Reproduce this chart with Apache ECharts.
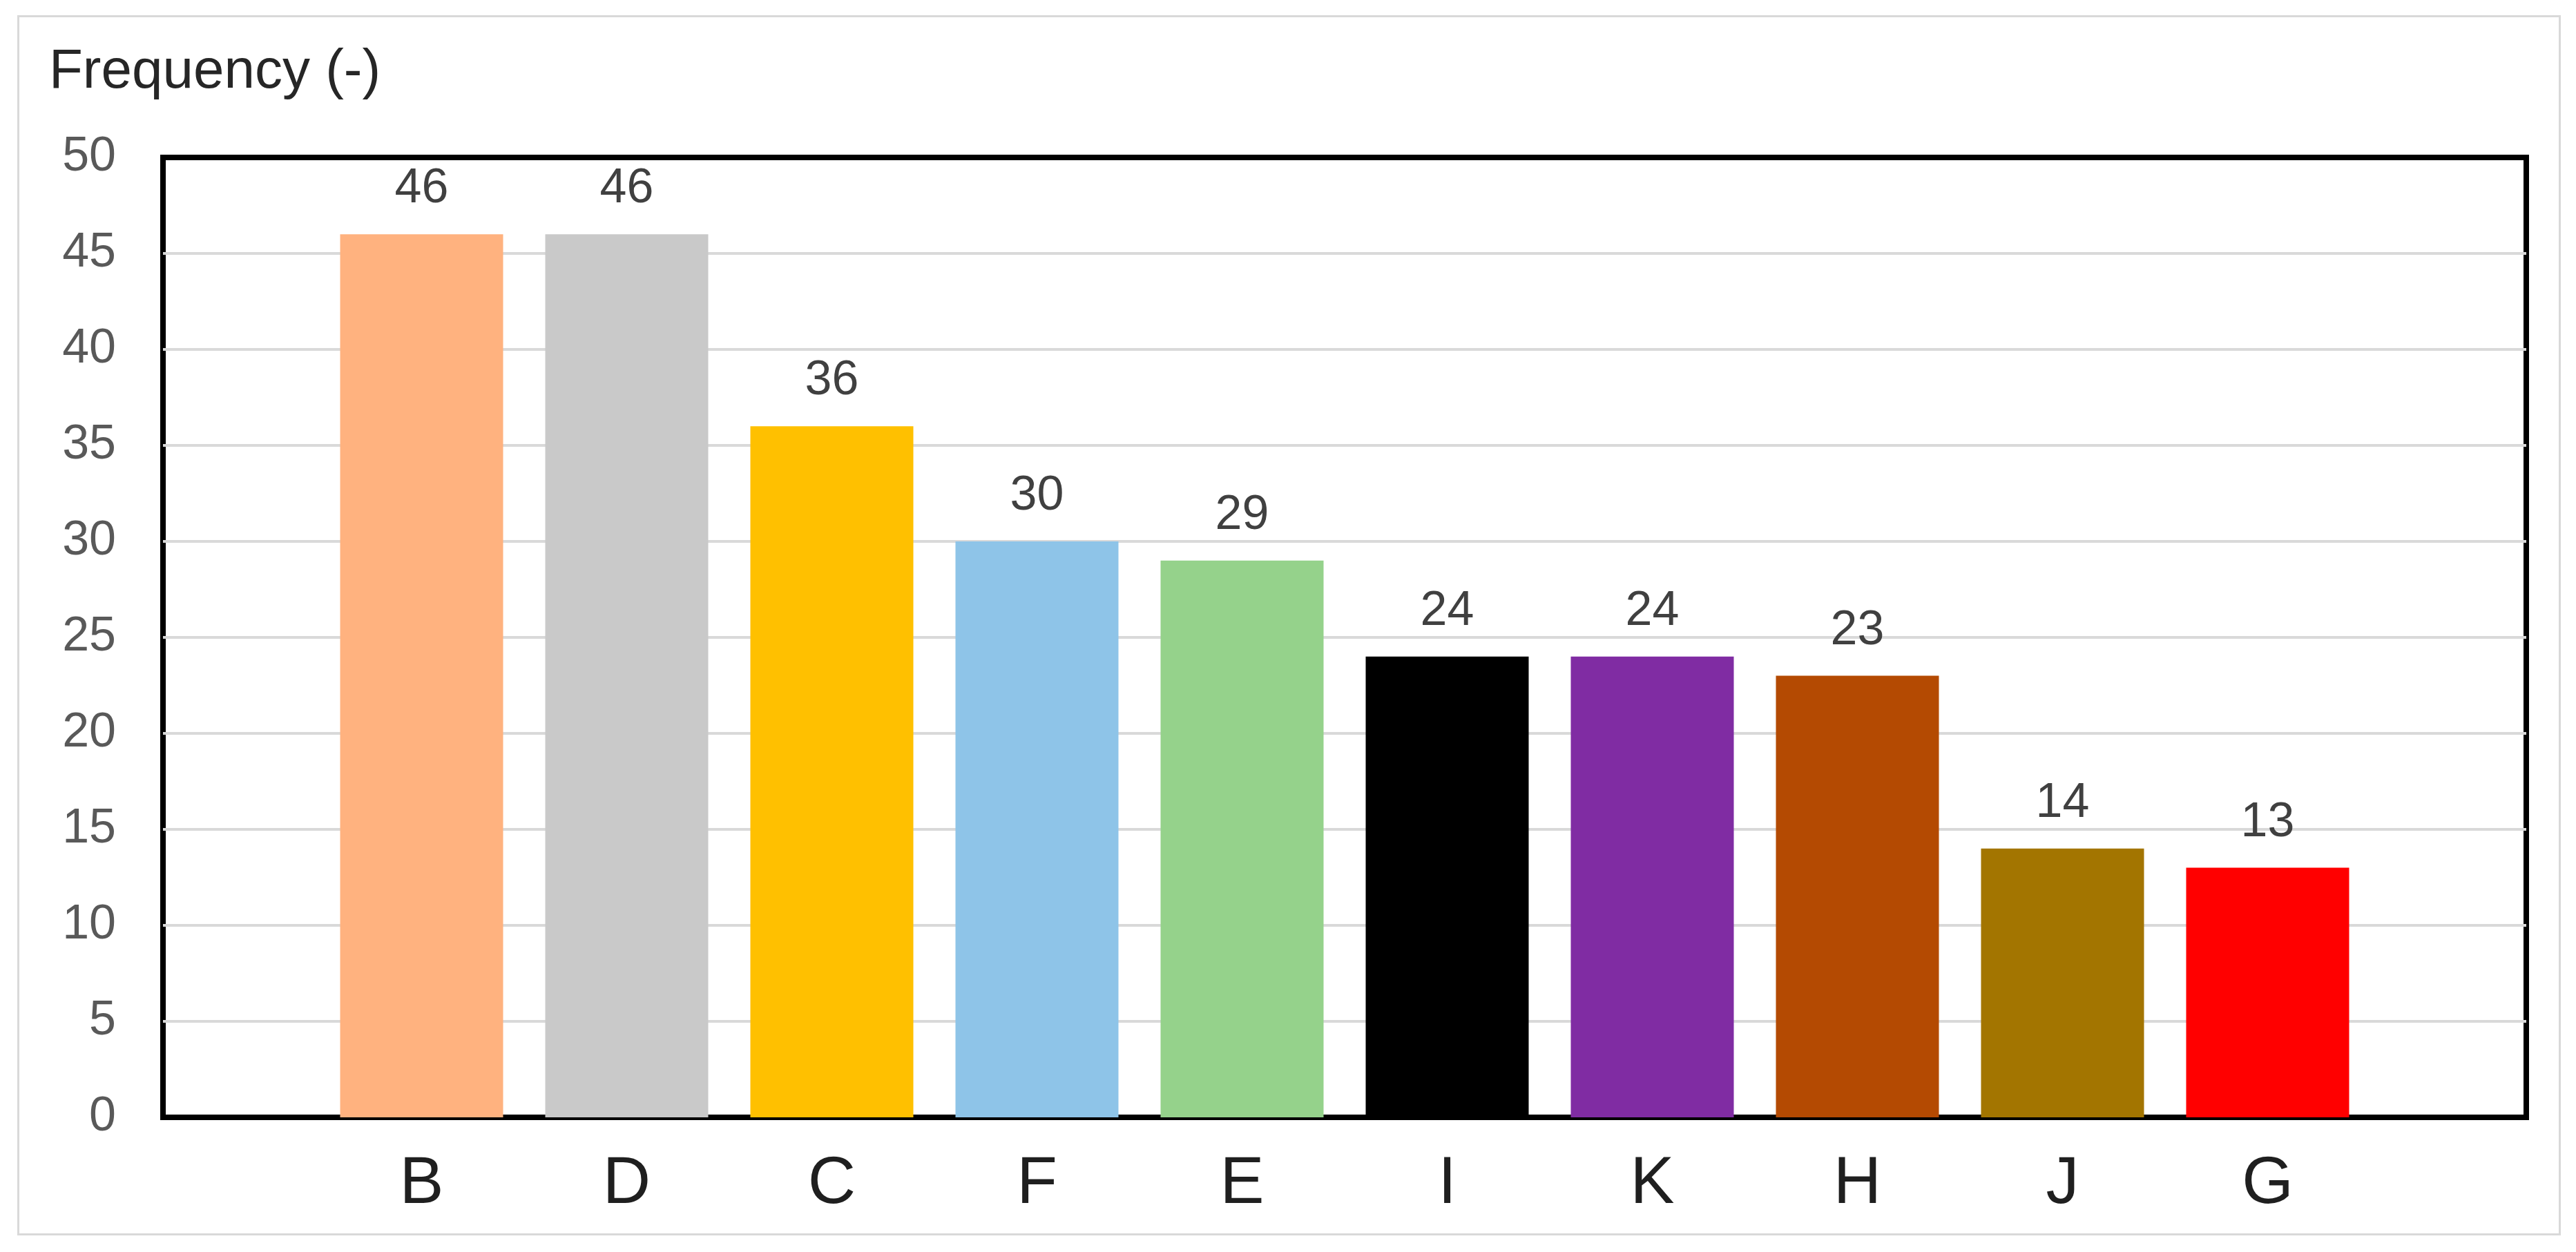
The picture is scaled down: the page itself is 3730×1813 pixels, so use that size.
<!DOCTYPE html>
<html>
<head>
<meta charset="utf-8">
<title>Frequency</title>
<script src="https://cdn.jsdelivr.net/npm/echarts@6/dist/echarts.min.js"></script>
<style>
	html, body { margin: 0; padding: 0; background: #fff; }
	#freq { width: 3730px; height: 1813px; }
</style>
</head>
<body>
<div id="freq"></div>
<script>
var categories = [ 'B', 'D', 'C', 'F', 'E', 'I', 'K', 'H', 'J', 'G' ];
var frequency = [ 46, 46, 36, 30, 29, 24, 24, 23, 14, 13 ];
var barColors = [ '#ffb27f', '#c9c9c9', '#ffc000', '#8ec4e8', '#95d28b',
	'#000000', '#802ca3', '#b44a02', '#a37500', '#ff0000' ];
var yTicks = { min : 0, max : 50, interval : 5 };

var font = 'Liberation Sans, Arial, sans-serif';

var freqChart = echarts.init(document.getElementById('freq'));
var freqOption = {
	animation : false,
	backgroundColor : '#ffffff',
	title : {
		text : 'Frequency (-)',
		left : 71,
		top : 65,
		padding : 0,
		textStyle : {
			fontFamily : font,
			fontSize : 80,
			fontWeight : 'normal',
			color : '#262626'
		}
	},
	graphic : [ {
		type : 'rect',
		left : 24,
		top : 21,
		shape : { width : 3680, height : 1764 },
		style : { fill : null, stroke : '#d9d9d9', lineWidth : 3 },
		silent : true
	} ],
	grid : [ {
		// frame with the gridlines
		left : 236,
		right : 72,
		top : 228,
		bottom : 195,
		show : true,
		borderColor : '#000000',
		borderWidth : 8,
		backgroundColor : 'transparent'
	}, {
		// bars sit inset from the frame
		left : 462,
		right : 298,
		top : 228,
		bottom : 195
	} ],
	xAxis : [ {
		gridIndex : 0,
		type : 'value',
		show : false
	}, {
		gridIndex : 1,
		type : 'category',
		data : categories,
		axisLine : { show : false },
		axisTick : { show : false },
		axisLabel : {
			margin : 50,
			fontFamily : font,
			fontSize : 96,
			color : '#1f1f1f'
		}
	} ],
	yAxis : [ {
		gridIndex : 0,
		type : 'value',
		min : yTicks.min,
		max : yTicks.max,
		interval : yTicks.interval,
		axisLine : { show : false },
		axisTick : { show : false },
		axisLabel : {
			margin : 68,
			fontFamily : font,
			fontSize : 70,
			color : '#595959'
		},
		splitLine : {
			showMinLine : false,
			showMaxLine : false,
			lineStyle : { color : '#d9d9d9', width : 4 }
		}
	}, {
		gridIndex : 1,
		type : 'value',
		min : yTicks.min,
		max : yTicks.max,
		show : false
	} ],
	series : [ {
		name : 'Frequency',
		type : 'bar',
		xAxisIndex : 1,
		yAxisIndex : 1,
		barWidth : 236,
		data : frequency.map(function(v, i) {
			return { value : v, itemStyle : { color : barColors[i] } };
		}),
		label : {
			show : true,
			position : 'top',
			distance : 30,
			fontFamily : font,
			fontSize : 70,
			color : '#404040'
		}
	} ]
};
freqChart.setOption(freqOption);
</script>
</body>
</html>
